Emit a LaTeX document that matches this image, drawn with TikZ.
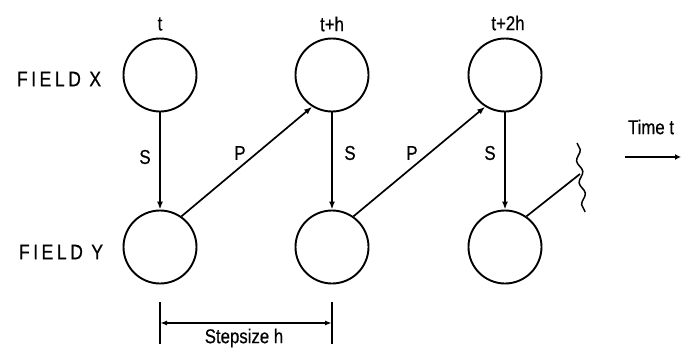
\documentclass[tikz,border=0pt]{standalone}
\usepackage{fontspec}
\setmainfont[FakeStretch=0.84,FakeBold=0.6]{Liberation Sans}
\usetikzlibrary{arrows.meta,decorations.pathmorphing}
\begin{document}
\begin{tikzpicture}[x=1pt,y=-1pt,
  fld/.style={circle,draw,line width=1.9pt,minimum size=73pt,inner sep=0pt},
  lbl/.style={inner sep=0pt,font=\fontsize{20pt}{20pt}\selectfont},
  side/.style={inner sep=0pt,font=\fontsize{21pt}{21pt}\selectfont},
  arr/.style={line width=1.7pt,-{Latex[length=8pt,width=6pt]}},
  plain/.style={line width=1.7pt},
  dim/.style={line width=1.5pt,{Latex[length=7pt,width=5pt]}-{Latex[length=7pt,width=5pt]}}]
\useasboundingbox (0,0) rectangle (681,351);
\node[fld] (x1) at (160,75) {};
\node[fld] (x2) at (332,75) {};
\node[fld] (x3) at (505,75) {};
\node[fld] (y1) at (160,247) {};
\node[fld] (y2) at (332,247) {};
\node[fld] (y3) at (505,247) {};
\node[lbl] (t0) at (160,24) {t};
\node[lbl] (t1) at (332,24) {t+h};
\node[lbl] (t2) at (508,23) {t+2h};
\node[side] (fx) at (59,79) {F\,I\,E\,L\,D\,\ X};
\node[side] (fy) at (61,252) {F\,I\,E\,L\,D\,\ Y};
\draw[arr] (x1) -- (y1);
\draw[arr] (x2) -- (y2);
\draw[arr] (x3) -- (y3);
\node[lbl] (s1) at (145,157) {S};
\node[lbl] (s2) at (350,153) {S};
\node[lbl] (s3) at (490,153) {S};
\draw[arr] (y1.55) -- (x2.238);
\draw[arr] (y2.55) -- (x3.238);
\node[lbl] (p1) at (240,153) {P};
\node[lbl] (p2) at (412,153) {P};
\coordinate (w1) at (577,143);
\coordinate (w2) at (585,212);
\coordinate (wj) at (580,174);
\draw[plain] (y3.55) -- (wj);
\draw[line width=1.5pt,decorate,decoration={snake,segment length=22pt,amplitude=2.5pt}] (w1) -- (w2);
\coordinate (ta) at (625,157);
\coordinate (tb) at (681,157);
\draw[line width=1.7pt,-{Latex[length=6pt,width=6pt]}] (ta) -- (tb);
\node[lbl] (tt) at (651,127) {Time t};
\coordinate (d1a) at (160,302);
\coordinate (d1b) at (160,344);
\coordinate (d2a) at (332,302);
\coordinate (d2b) at (332,344);
\coordinate (h1) at (160,323);
\coordinate (h2) at (332,323);
\draw[plain] (d1a) -- (d1b);
\draw[plain] (d2a) -- (d2b);
\draw[dim] (h1) -- (h2);
\node[lbl] (st) at (244,338) {Stepsize h};
\end{tikzpicture}
\end{document}
